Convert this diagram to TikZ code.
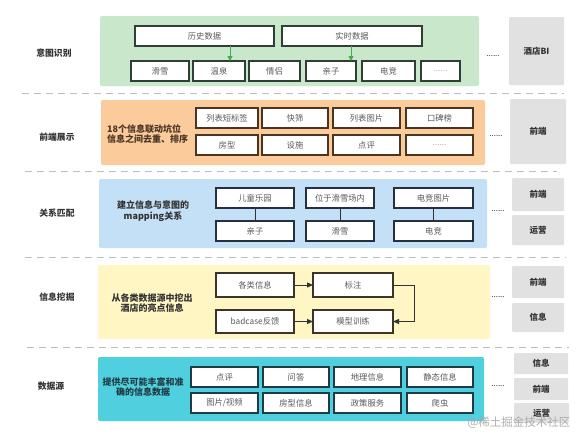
\documentclass[tikz,border=0pt]{standalone}
\usepackage{fontspec}
\setmainfont{Noto Sans CJK SC}
\usetikzlibrary{arrows.meta}
\definecolor{bgreen}{HTML}{C9E7CB}
\definecolor{borange}{HTML}{FBCB9C}
\definecolor{bblue}{HTML}{C3E0F7}
\definecolor{byellow}{HTML}{FFF6C4}
\definecolor{bcyan}{HTML}{50D0DF}
\definecolor{bgray}{HTML}{E1E1E1}
\definecolor{agreen}{HTML}{3FAE4F}
\definecolor{dashc}{HTML}{BDBDBD}
\definecolor{txt}{HTML}{333333}
\definecolor{btxt}{HTML}{5A5A5A}
\definecolor{gbord}{HTML}{2F3F35}
\definecolor{obord}{HTML}{4A3522}
\definecolor{lbord}{HTML}{253040}
\definecolor{ybord}{HTML}{3A3528}
\definecolor{cbord}{HTML}{1F3C44}
\tikzset{
  band/.style={fill=#1, draw=none, rounded corners=2pt, inner sep=0pt, outer sep=0pt},
  cell/.style={draw=#1, fill=white, line width=1.1pt, inner sep=0pt, outer sep=0pt, font=\fontsize{8.3}{9}\selectfont, text=btxt},
  side/.style={fill=bgray, draw=none, rounded corners=1pt, inner sep=0pt, outer sep=0pt, font=\bfseries\fontsize{8.5}{10}\selectfont, text=txt},
  rowlabel/.style={font=\bfseries\fontsize{8.8}{10}\selectfont, text=txt},
  bandtext/.style={font=\bfseries\fontsize{9}{10.4}\selectfont, align=center},
  sep/.style={draw=dashc, line width=0.9pt, dash pattern=on 7pt off 5pt},
  dots/.style={font=\fontsize{8}{9}\selectfont, text=txt},
  garrow/.style={draw=agreen, line width=1pt, -{Triangle[length=5pt,width=5pt]}},
  darrow/.style={draw=txt, line width=1pt, -{Triangle[length=6pt,width=5pt]}},
  link/.style={draw=txt, line width=1pt},
}
\newcommand\bx[7]{\node[#1, minimum width={(#4-#2)*1pt}, minimum height={(#5-#3)*1pt}] (#6) at ({(#2+#4)/2},{(#3+#5)/2}) {#7};}
\begin{document}
\begin{tikzpicture}[x=1pt,y=-1pt]
\useasboundingbox (0,0) rectangle (587,442);
\fill[white] (0,0) rectangle (587,442);
% separators
\coordinate (s1a) at (22,93); \coordinate (s1b) at (564,93);
\coordinate (s2a) at (25,171); \coordinate (s2b) at (557,171);
\coordinate (s3a) at (25,257); \coordinate (s3b) at (566,257);
\coordinate (s4a) at (27,347); \coordinate (s4b) at (569,347);
\draw[sep] (s1a) -- (s1b);
\draw[sep] (s2a) -- (s2b);
\draw[sep] (s3a) -- (s3b);
\draw[sep] (s4a) -- (s4b);

% ===== Row 1: 意图识别
\node[rowlabel] (l1) at (54,53) {意图识别};
\bx{band=bgreen}{100}{16}{479}{86}{g1}{}
\bx{cell=gbord}{135}{26}{274}{46}{hist}{历史数据}
\bx{cell=gbord}{282}{26}{422}{46}{real}{实时数据}
\bx{cell=gbord}{131}{61}{189}{81}{hx}{滑雪}
\bx{cell=gbord}{193}{61}{245}{81}{wq}{温泉}
\bx{cell=gbord}{249}{61}{300}{81}{ql}{情侣}
\bx{cell=gbord}{306}{61}{356}{81}{qz}{亲子}
\bx{cell=gbord}{362}{61}{415}{81}{dj}{电竞}
\bx{cell=gbord}{421}{61}{460}{81}{md1}{\textcolor{black!30}{......}}
\draw[garrow] (hist.south -| wq.north) ++(11,0) coordinate (ga) -- (ga |- wq.north);
\draw[garrow] (real.south -| qz.north) ++(20,0) coordinate (gb) -- (gb |- qz.north);
\node[dots] (d1) at (493,56) {......};
\bx{side}{509}{17}{564}{85}{bi}{酒店BI}

% ===== Row 2: 前端展示
\node[rowlabel] (l2) at (57,137) {前端展示};
\bx{band=borange}{101}{100}{485}{165}{o1}{}
\node[bandtext, align=left, text=obord, anchor=west, inner sep=0pt] (ot) at (107,134) {18个信息联动坑位\\信息之间去重、排序};
\bx{cell=obord}{196}{108}{258}{128}{a1}{列表短标签}
\bx{cell=obord}{262}{108}{328}{128}{a2}{快筛}
\bx{cell=obord}{333}{108}{400}{128}{a3}{列表图片}
\bx{cell=obord}{406}{108}{473}{128}{a4}{口碑榜}
\bx{cell=obord}{196}{135}{258}{155}{b1}{房型}
\bx{cell=obord}{262}{135}{328}{155}{b2}{设施}
\bx{cell=obord}{333}{135}{400}{155}{b3}{点评}
\bx{cell=obord}{406}{135}{473}{155}{b4}{\textcolor{black!30}{......}}
\node[dots] (d2) at (496,136) {......};
\bx{side}{510}{99}{566}{164}{fe1}{前端}

% ===== Row 3: 关系匹配
\node[rowlabel] (l3) at (57,213) {关系匹配};
\bx{band=bblue}{99}{179}{487}{248}{bl1}{}
\node[bandtext, text=txt] (bt) at (153,211) {建立信息与意图的\\mapping关系};
\bx{cell=lbord}{216}{188}{294}{208}{c1}{儿童乐园}
\bx{cell=lbord}{306}{188}{374}{208}{c2}{位于滑雪场内}
\bx{cell=lbord}{394}{188}{473}{208}{c3}{电竞图片}
\bx{cell=lbord}{216}{221}{294}{241}{e1}{亲子}
\bx{cell=lbord}{306}{221}{374}{241}{e2}{滑雪}
\bx{cell=lbord}{394}{221}{473}{241}{e3}{电竞}
\draw[link] (c1) -- (e1);
\draw[link] (c2) -- (e2);
\draw[link] (c3) -- (e3);
\node[dots] (d3) at (498,211) {......};
\bx{side}{512}{178}{564}{211}{fe2}{前端}
\bx{side}{512}{215}{564}{245}{op2}{运营}

% ===== Row 4: 信息挖掘
\node[rowlabel] (l4) at (57,297) {信息挖掘};
\bx{band=byellow}{98}{265}{490}{339}{y1}{}
\node[bandtext, text=txt] (yt) at (152,303) {从各类数据源中挖出\\酒店的亮点信息};
\bx{cell=ybord}{216}{273}{294}{297}{gx}{各类信息}
\bx{cell=ybord}{216}{310}{294}{333}{bc}{badcase反馈}
\bx{cell=ybord}{313}{273}{393}{297}{bz}{标注}
\bx{cell=ybord}{313}{310}{393}{333}{mx}{模型训练}
\draw[darrow] (gx) -- (bz);
\draw[darrow] (bc) -- (mx);
\draw[darrow] (bz.east) -- ++(21,0) |- (mx.east);
\node[dots] (d4) at (498,297) {......};
\bx{side}{512}{266}{564}{298}{fe3}{前端}
\bx{side}{512}{303}{564}{332}{in3}{信息}

% ===== Row 5: 数据源
\node[rowlabel] (l5) at (51,386) {数据源};
\bx{band=bcyan}{98}{357}{484}{421}{cy1}{}
\node[bandtext, text=cbord] (ct) at (143,387) {提供尽可能丰富和准\\确的信息数据};
\bx{cell=cbord}{191}{367}{258}{387}{f1}{点评}
\bx{cell=cbord}{263}{367}{329}{387}{f2}{问答}
\bx{cell=cbord}{334}{367}{401}{387}{f3}{地理信息}
\bx{cell=cbord}{407}{367}{473}{387}{f4}{静态信息}
\bx{cell=cbord}{191}{393}{258}{413}{h1}{图片/视频}
\bx{cell=cbord}{263}{393}{329}{413}{h2}{房型信息}
\bx{cell=cbord}{334}{393}{401}{413}{h3}{政策服务}
\bx{cell=cbord}{407}{393}{473}{413}{h4}{爬虫}
\node[dots] (d5) at (498,386) {......};
\bx{side}{514}{353}{568}{374}{in4}{信息}
\bx{side}{514}{378}{568}{400}{fe4}{前端}
\bx{side}{514}{403}{569}{423}{op4}{运营}

% watermark
\node[font=\fontsize{11.5}{12}\selectfont, text=black!35, opacity=0.9] (wm) at (519,423) {@稀土掘金技术社区};
\end{tikzpicture}
\end{document}
